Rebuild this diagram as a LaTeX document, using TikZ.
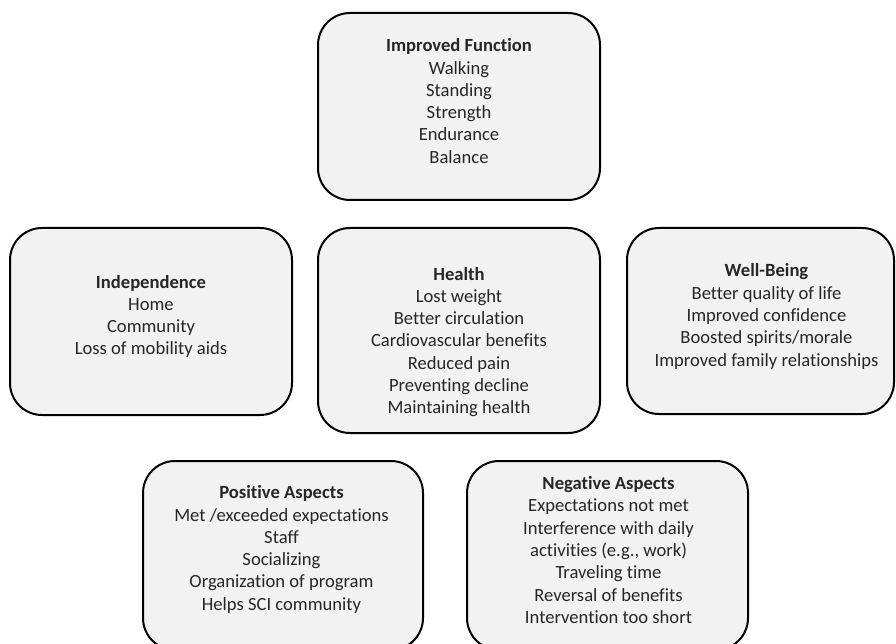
\documentclass[tikz,border=0pt]{standalone}
\usepackage{fontspec}
\setmainfont{Carlito}[Ligatures={NoCommon}]
\definecolor{boxfill}{HTML}{F2F2F2}
\definecolor{txtcol}{HTML}{262626}
\begin{document}
\begin{tikzpicture}[x=1pt,y=-1pt,
  card/.style={draw=black, line width=2pt, fill=boxfill, rounded corners=32pt, inner sep=0pt},
  txt/.style={align=center, text=txtcol, font=\fontsize{18.6}{22.3}\selectfont, inner sep=0pt}]
\useasboundingbox (0,0) rectangle (896,644);
\clip (0,0) rectangle (896,644);
% boxes
\node[card, minimum width=282pt, minimum height=187pt] (f) at (459,106.5) {};
\node[card, minimum width=282pt, minimum height=187pt] (ind) at (151,321.5) {};
\node[card, minimum width=282pt, minimum height=205pt] (h) at (459,330.5) {};
\node[card, minimum width=267pt, minimum height=186pt] (wb) at (760.5,321) {};
\node[card, minimum width=280pt, minimum height=189pt] (pos) at (283,555.5) {};
\node[card, minimum width=281pt, minimum height=189pt] (neg) at (607.5,555.5) {};
% texts
\node[txt] (ft) at (459,101) {\textbf{Improved Function}\\Walking\\Standing\\Strength\\Endurance\\Balance};
\node[txt] (indt) at (151,316.5) {\textbf{Independence}\\Home\\Community\\Loss of mobility aids};
\node[txt] (ht) at (459,342) {\textbf{Health}\\Lost weight\\Better circulation\\Cardiovascular benefits\\Reduced pain\\Preventing decline\\Maintaining health};
\node[txt] (wbt) at (766.5,316.5) {\textbf{Well-Being}\\Better quality of life\\Improved confidence\\Boosted spirits/morale\\Improved family relationships};
\node[txt] (post) at (281.5,549.5) {\textbf{Positive Aspects}\\Met /exceeded expectations\\Staff\\Socializing\\Organization of program\\Helps SCI community};
\node[txt] (negt) at (608.5,550) {\textbf{Negative Aspects}\\Expectations not met\\Interference with daily\\activities (e.g., work)\\Traveling time\\Reversal of benefits\\Intervention too short};
\end{tikzpicture}
\end{document}
